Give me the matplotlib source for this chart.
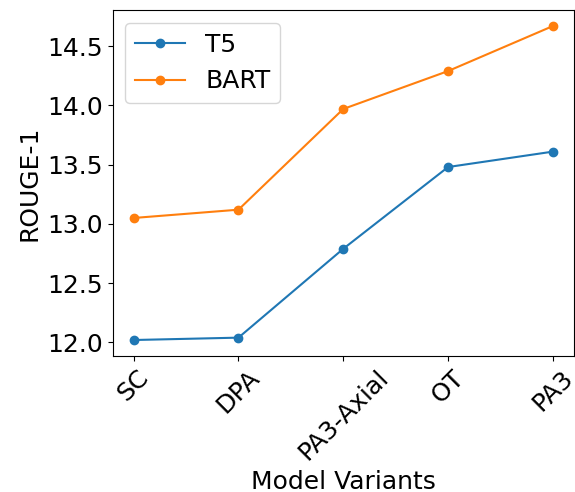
import matplotlib
matplotlib.use('Agg')
import matplotlib.pyplot as plt

# model variants and ROUGE-1 scores
variants = ['SC', 'DPA', 'PA3-Axial', 'OT', 'PA3']
t5_scores = [12.02, 12.04, 12.79, 13.48, 13.61]
bart_scores = [13.05, 13.12, 13.97, 14.29, 14.67]

fig, ax = plt.subplots(figsize=(5.75, 4.92), dpi=100)

ax.plot(variants, t5_scores, marker='o', label='T5')
ax.plot(variants, bart_scores, marker='o', label='BART')

ax.set_xlabel('Model Variants', fontsize=18)
ax.set_ylabel('ROUGE-1', fontsize=18)
ax.tick_params(axis='both', labelsize=18)
plt.xticks(rotation=45)
ax.legend(fontsize=18)

fig.subplots_adjust(left=0.196, right=0.998, top=0.979, bottom=0.277)
fig.savefig('out.png', dpi=100)
